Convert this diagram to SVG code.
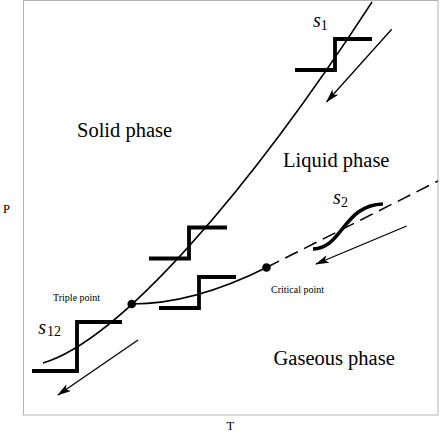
<svg xmlns="http://www.w3.org/2000/svg" width="440" height="436" viewBox="0 0 440 436">
<style>
text{font-family:'Liberation Serif',serif;fill:#000}
.ph{font-size:20.5px}
.sm{font-size:10px}
.ax{font-size:12.5px}
.sv{font-size:20px;font-style:italic}
.sub{font-size:14px}
.curve{fill:none;stroke:#000;stroke-width:1.5}
.step{fill:none;stroke:#000;stroke-width:3.8;stroke-linejoin:miter;stroke-linecap:butt}
.arr{fill:none;stroke:#000;stroke-width:1.3;marker-end:url(#ah)}
</style>
<defs>
<marker id="ah" viewBox="0 0 14 8" refX="13" refY="4" markerWidth="14" markerHeight="8" markerUnits="userSpaceOnUse" orient="auto">
<path d="M0,0 L14,4 L0,8 L3.5,4 z" fill="#000"/>
</marker>
</defs>
<rect id="frame" x="23.5" y="0.5" width="414.5" height="414.5" fill="#fff" stroke="#b4b4b4" stroke-width="1"/>
<g id="connectors">
<path id="solid-liquid" class="curve" d="M43,363 C120,340 250,190 372,2"/>
<path id="liquid-gas" class="curve" d="M132,304 Q193.5,304 266.5,267.5"/>
<path id="supercritical" class="curve" d="M266.5,267.5 L438,181" stroke-dasharray="14 7"/>
<polyline id="step-s1" class="step" points="295,70 335,70 335,39 372,39"/>
<polyline id="step-mid" class="step" points="149,258.5 189,258.5 189,227.5 227,227.5"/>
<polyline id="step-low" class="step" points="159,308 199,308 199,277 236,277"/>
<polyline id="step-s12" class="step" points="32,371 77,371 77,322 122,322"/>
<path id="s2-curve" fill="none" stroke="#000" stroke-width="3.5" d="M313,249 C343,248 343,205 383,204"/>
<line id="arrow-s1" class="arr" x1="391.7" y1="29.3" x2="326.7" y2="101.7"/>
<line id="arrow-s2" class="arr" x1="406.7" y1="226" x2="316" y2="264"/>
<line id="arrow-s12" class="arr" x1="138" y1="340" x2="58" y2="395"/>
</g>
<g id="triple-point">
<circle cx="131.7" cy="304" r="4.3" fill="#000"/>
<text class="sm" x="53" y="300.5" font-family="Liberation Serif, serif">Triple point</text>
</g>
<g id="critical-point">
<circle cx="266.5" cy="267.5" r="4.3" fill="#000"/>
<text class="sm" x="271" y="292.5" font-family="Liberation Serif, serif">Critical point</text>
</g>
<g id="solid-phase"><text class="ph" x="77" y="137" font-family="Liberation Serif, serif">Solid phase</text></g>
<g id="liquid-phase"><text class="ph" x="283" y="166.5" font-family="Liberation Serif, serif">Liquid phase</text></g>
<g id="gaseous-phase"><text class="ph" x="273.5" y="365" font-family="Liberation Serif, serif">Gaseous phase</text></g>
<g id="axis-p"><text class="ax" x="3" y="212.5" font-family="Liberation Serif, serif">P</text></g>
<g id="axis-t"><text class="ax" x="226.5" y="429.5" font-family="Liberation Serif, serif">T</text></g>
<g id="label-s1"><text class="sv" x="313" y="27" font-family="Liberation Serif, serif">s</text><text class="sub" x="320.7" y="29.5" font-family="Liberation Serif, serif">1</text></g>
<g id="label-s2"><text class="sv" x="333" y="204" font-family="Liberation Serif, serif">s</text><text class="sub" x="341" y="207" font-family="Liberation Serif, serif">2</text></g>
<g id="label-s12"><text class="sv" x="38.3" y="334" font-family="Liberation Serif, serif">s</text><text class="sub" x="47" y="336" font-family="Liberation Serif, serif">12</text></g>
</svg>
